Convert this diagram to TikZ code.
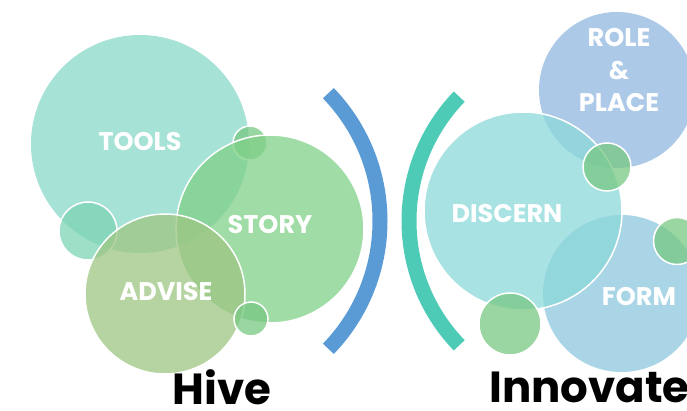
\documentclass[tikz,border=0pt]{standalone}
\usepackage{fontspec}
\setmainfont{Poppins}
\definecolor{ctools}{RGB}{136,216,199}
\definecolor{cstory}{RGB}{128,208,135}
\definecolor{cadvise}{RGB}{158,198,131}
\definecolor{cteal}{RGB}{125,212,180}
\definecolor{cgreen}{RGB}{120,200,130}
\definecolor{cdiscern}{RGB}{139,216,218}
\definecolor{crole}{RGB}{146,183,224}
\definecolor{cform}{RGB}{140,199,222}
\definecolor{cblue}{RGB}{91,155,213}
\definecolor{carc}{RGB}{78,203,183}
\begin{document}
\begin{tikzpicture}[x=1pt,y=-1pt,
  bub/.style={circle, inner sep=0pt, fill opacity=0.75, draw=none},
  rim/.style={draw=white, line width=1.5pt},
  lab/.style={text=white, font=\bfseries\fontsize{25.5}{32.5}\selectfont, align=center, inner sep=0pt},
  big/.style={font=\bfseries\fontsize{43.5}{43.5}\selectfont, text=black, inner sep=0pt},
  bracket/.style={line width=15pt}]
\useasboundingbox (0,0) rectangle (687,411);
% left cluster
\node[bub, fill=ctools, minimum size=218pt] (tools) at (140,144) {};
\node[bub, rim, fill=cgreen, minimum size=34pt] (s1) at (250,143) {};
\node[bub, rim, fill=cteal, minimum size=58pt] (s2) at (88,231) {};
\node[bub, rim, fill=cstory, minimum size=188pt] (story) at (270,229) {};
\node[bub, rim, fill=cadvise, minimum size=160pt] (advise) at (165,294) {};
\node[bub, rim, fill=cgreen, minimum size=34pt] (s3) at (251,319) {};
% brackets
\draw[bracket, cblue] (196,221) ++(-44:184) arc[start angle=-44, end angle=44, radius=184];
\draw[bracket, carc] (588,221) ++(224:179) arc[start angle=224, end angle=136, radius=179];
% right cluster
\node[bub, fill=crole, minimum size=156pt] (role) at (617,90) {};
\node[bub, fill=cform, minimum size=157pt] (form) at (621.5,293.5) {};
\node[bub, rim, fill=cdiscern, minimum size=198pt] (discern) at (523,211) {};
\node[bub, rim, fill=cgreen, minimum size=48pt] (s4) at (607,167) {};
\node[bub, rim, fill=cgreen, minimum size=47pt] (s5) at (677,241) {};
\node[bub, rim, fill=cgreen, minimum size=62pt] (s6) at (510,324) {};
% labels
\node[lab] (ltools) at (140,142) {TOOLS};
\node[lab] (lstory) at (270,225) {STORY};
\node[lab] (ladvise) at (166,292) {ADVISE};
\node[lab] (ldiscern) at (507,214) {DISCERN};
\node[lab] (lrole) at (619,70) {ROLE\\\&\\PLACE};
\node[lab] (lform) at (639,297) {FORM};
\node[big] (hive) at (222,387) {Hive};
\node[big, anchor=west] (innov) at (489,387) {Innovate};
\end{tikzpicture}
\end{document}
